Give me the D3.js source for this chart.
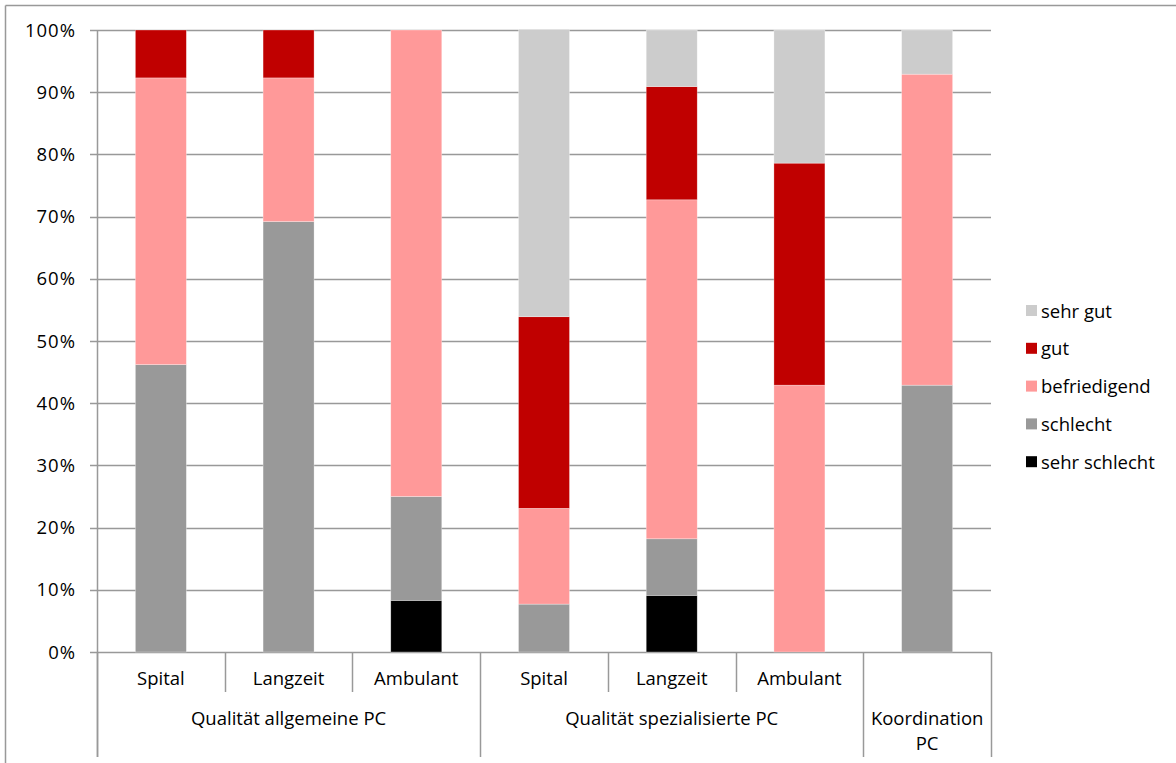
<!DOCTYPE html>
<html>
<head>
<meta charset="utf-8">
<script src="https://cdn.jsdelivr.net/npm/d3@7/dist/d3.min.js"></script>
<style>
  body { margin: 0; background: #fff; }
  text { font-family: "Open Sans", "Noto Sans", sans-serif; fill: #000; }
</style>
</head>
<body>
<div id="chart"></div>
<script>
// categories (sub label + group)
const subLabels = ["Spital", "Langzeit", "Ambulant", "Spital", "Langzeit", "Ambulant", ""]
const groups = [
  { name: ["Qualität allgemeine PC"], from: 0, to: 3 },
  { name: ["Qualität spezialisierte PC"], from: 3, to: 6 },
  { name: ["Koordination", "PC"], from: 6, to: 7 }
]
const seriesNames = ["sehr schlecht", "schlecht", "befriedigend", "gut", "sehr gut"]
const seriesColors = ["#000000", "#999999", "#FF9999", "#C00000", "#CCCCCC"]

// percentages per series, one value per column
const sehrSchlecht = [0, 0, 8.3, 0, 9.1, 0, 0]
const schlecht     = [46.2, 69.2, 16.7, 7.7, 9.1, 0, 42.9]
const befriedigend = [46.1, 23.1, 75.0, 15.4, 54.5, 42.9, 50.0]
const gut          = [7.7, 7.7, 0, 30.8, 18.2, 35.7, 0]
const sehrGut      = [0, 0, 0, 46.2, 9.1, 21.4, 7.1]
const yTicks = [0, 10, 20, 30, 40, 50, 60, 70, 80, 90, 100]

const width = 1176, height = 763
const margin = { top: 30, left: 97, right: 185, bottom: 111 }
const fs = 18.5

const svg = d3.select("#chart").append("svg")
  .attr("width", width).attr("height", height)

// outer frame (top + left only visible)
svg.append("line").attr("x1", 5.5).attr("x2", width).attr("y1", 5.5).attr("y2", 5.5)
  .attr("stroke", "#999").attr("stroke-width", 1.5)
svg.append("line").attr("x1", 5.5).attr("x2", 5.5).attr("y1", 5.5).attr("y2", height)
  .attr("stroke", "#999").attr("stroke-width", 1.5)

const idx = d3.range(subLabels.length)
const step = (width - margin.right - margin.left) / idx.length
const y = d3.scaleLinear().domain([0, 100]).range([height - margin.bottom, margin.top])

// gridlines
svg.append("g").selectAll("line").data(yTicks).enter().append("line")
  .attr("x1", margin.left - 7).attr("x2", width - margin.right)
  .attr("y1", d => Math.round(y(d)) + 0.5).attr("y2", d => Math.round(y(d)) + 0.5)
  .attr("stroke", "#999").attr("stroke-width", 1.5)

svg.append("g").selectAll("text").data(yTicks).enter().append("text")
  .attr("x", margin.left - 21).attr("y", d => y(d) + 6.5)
  .attr("text-anchor", "end").attr("font-size", fs).attr("letter-spacing", 1)
  .text(d => d + "%")

// stacked bars
const rows = idx.map(i => ({
  i,
  "sehr schlecht": sehrSchlecht[i], "schlecht": schlecht[i], "befriedigend": befriedigend[i],
  "gut": gut[i], "sehr gut": sehrGut[i]
}))
const stack = d3.stack().keys(seriesNames)(rows)
const color = d3.scaleOrdinal().domain(seriesNames).range(seriesColors)

const barW = 51
svg.append("g").selectAll("g").data(stack).enter().append("g")
  .attr("fill", d => color(d.key))
  .selectAll("rect").data(d => d).enter().append("rect")
  .attr("x", d => margin.left + step * (d.data.i + 0.5) - barW / 2)
  .attr("width", barW)
  .attr("y", d => y(d[1]))
  .attr("height", d => y(d[0]) - y(d[1]))
  .attr("stroke", "rgba(255,255,255,0.5)").attr("stroke-width", 0.6)

// y axis line
const y0 = y(0)
svg.append("line").attr("x1", margin.left + 0.5).attr("x2", margin.left + 0.5)
  .attr("y1", margin.top).attr("y2", 757).attr("stroke", "#999").attr("stroke-width", 1.5)

// category ticks
const bounds = d3.range(idx.length + 1)
const groupEdges = [0, 3, 6, 7]
svg.append("g").selectAll("line").data(bounds).enter().append("line")
  .attr("x1", d => Math.round(margin.left + step * d) + 0.5)
  .attr("x2", d => Math.round(margin.left + step * d) + 0.5)
  .attr("y1", y0)
  .attr("y2", d => groupEdges.includes(d) ? 757 : 692)
  .attr("stroke", "#999").attr("stroke-width", 1.5)

svg.append("g").selectAll("text").data(idx).enter().append("text")
  .attr("x", i => margin.left + step * (i + 0.5))
  .attr("y", 685).attr("text-anchor", "middle").attr("font-size", fs)
  .text(i => subLabels[i])

svg.append("g").selectAll("text").data(groups).enter().append("text")
  .attr("x", g => margin.left + step * (g.from + g.to) / 2)
  .attr("y", 725).attr("text-anchor", "middle").attr("font-size", fs)
  .selectAll("tspan").data(g => g.name).enter().append("tspan")
  .attr("x", function () { return d3.select(this.parentNode).attr("x") })
  .attr("dy", (d, k) => k === 0 ? 0 : 25)
  .text(d => d)

// legend (top to bottom: sehr gut ... sehr schlecht)
const legendItems = seriesNames.slice().reverse()
const lg = svg.append("g").selectAll("g").data(legendItems).enter().append("g")
  .attr("transform", (d, k) => `translate(1026, ${311 + k * 37.8})`)
lg.append("rect").attr("x", 0).attr("y", -6).attr("width", 11).attr("height", 11)
  .attr("fill", d => color(d))
lg.append("text").attr("x", 15).attr("y", 6.5).attr("font-size", fs).text(d => d)
</script>
</body>
</html>
